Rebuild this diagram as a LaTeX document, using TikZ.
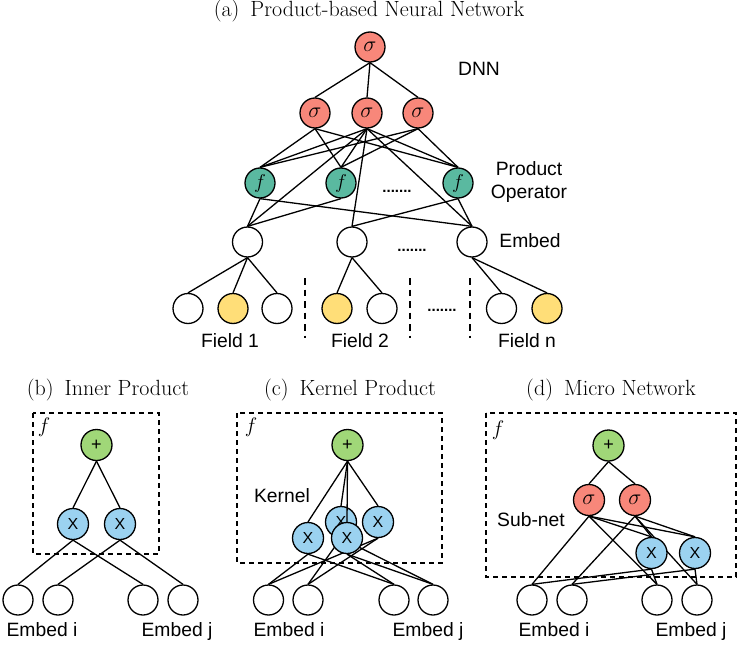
\RequirePackage{fix-cm}
\documentclass[tikz,border=0pt]{standalone}
\usepackage{fontspec}
\setsansfont{Liberation Sans}
\usepackage{xcolor}
\usepackage{tikz}

\definecolor{sigred}{HTML}{F8877A}
\definecolor{opteal}{HTML}{5AB9A0}
\definecolor{hotyellow}{HTML}{FFDE78}
\definecolor{plusgreen}{HTML}{A0D778}
\definecolor{prodblue}{HTML}{9BD2F0}

\begin{document}
\begin{tikzpicture}[x=1pt, y=-1pt, line width=1.3pt,
    unit/.style={circle, draw, fill=white, minimum size=30pt, inner sep=0pt},
    sigunit/.style={unit, fill=sigred, font=\fontsize{22}{26}\selectfont},
    opunit/.style={unit, fill=opteal, font=\fontsize{20}{24}\selectfont},
    hotunit/.style={unit, fill=hotyellow},
    plusunit/.style={unit, fill=plusgreen, minimum size=31pt, font=\sffamily\fontsize{18}{20}\selectfont},
    produnit/.style={unit, fill=prodblue, minimum size=31pt, font=\sffamily\fontsize{16}{18}\selectfont},
    lbltext/.style={font=\sffamily\fontsize{19.3}{23}\selectfont, anchor=base, inner sep=0pt},
    ttltext/.style={font=\fontsize{22}{26}\selectfont, anchor=base, inner sep=0pt},
    ftext/.style={font=\fontsize{21}{24}\selectfont, inner sep=0pt},
    dotstext/.style={font=\sffamily\bfseries\fontsize{15}{16}\selectfont, anchor=base, inner sep=0pt},
    dashbox/.style={dash pattern=on 5pt off 4pt, line width=1.2pt}]
\useasboundingbox (0,0) rectangle (738,650);

% (a) Nodes
\node[ttltext] (titleA) at (369,17) {(a)\enskip Product-based Neural Network};
\node[sigunit] (out) at (370,47) {$\sigma$};
\node[sigunit] (hid1) at (315,113) {$\sigma$};
\node[sigunit] (hid2) at (367,113) {$\sigma$};
\node[sigunit] (hid3) at (418,113) {$\sigma$};
\node[opunit] (op1) at (260,183) {$f$};
\node[opunit] (op2) at (341,183) {$f$};
\node[opunit] (op3) at (458,183) {$f$};
\node[unit] (emb1) at (247.5,242) {};
\node[unit] (emb2) at (352,242) {};
\node[unit] (emb3) at (472,242) {};
\node[unit] (field1) at (188,308.5) {};
\node[hotunit] (field2) at (233,308.5) {};
\node[unit] (field3) at (277,308.5) {};
\node[hotunit] (field4) at (337,308.5) {};
\node[unit] (field5) at (382,308.5) {};
\node[unit] (field6) at (501.5,308.5) {};
\node[hotunit] (field7) at (547,308.5) {};

\node[lbltext] (dnn) at (479,76) {DNN};
\node[lbltext, align=center, anchor=center] (prodop) at (529,182) {Product\\Operator};
\node[lbltext] (embedlbl) at (530,247) {Embed};
\node[lbltext] (fieldlbl1) at (230,347) {Field 1};
\node[lbltext] (fieldlbl2) at (360,347) {Field 2};
\node[lbltext] (fieldlbln) at (527,347) {Field n};
\node[dotstext] (opdots) at (397,192) {.......};
\node[dotstext] (embdots) at (412,251) {.......};
\node[dotstext] (fielddots) at (442,311) {.......};

\draw[dash pattern=on 6.5pt off 5pt] (305,278) -- (305,338);
\draw[dash pattern=on 6.5pt off 5pt] (410,278) -- (410,338);
\draw[dash pattern=on 6.5pt off 5pt] (470,278) -- (470,338);

% (a) Edges
\draw (out.south) -- (hid1.north);
\draw (out.south) -- (hid2.north);
\draw (out.south) -- (hid3.north);

\draw (hid1.south) -- (op1.north);
\draw (hid1.south) -- (op2.north);
\draw (hid1.south) -- (op3.north);
\draw (hid2.south) -- (op1.north);
\draw (hid2.south) -- (op2.north);
\draw (hid2.south) -- (op3.north);
\draw (hid3.south) -- (op1.north);
\draw (hid3.south) -- (op2.north);
\draw (hid3.south) -- (op3.north);

\draw (hid2.south) -- (emb1.north);
\draw (hid2.south) -- (emb2.north);
\draw (hid2.south) -- (emb3.north);

\draw (op1.south) -- (emb1.north);
\draw (op1.south) -- (emb3.north);
\draw (op2.south) -- (emb1.north);
\draw (op3.south) -- (emb2.north);
\draw (op3.south) -- (emb3.north);

\draw (emb1.south) -- (field1.north);
\draw (emb1.south) -- (field2.north);
\draw (emb1.south) -- (field3.north);
\draw (emb2.south) -- (field4.north);
\draw (emb2.south) -- (field5.north);
\draw (emb3.south) -- (field6.north);
\draw (emb3.south) -- (field7.north);

% (b) Inner Product
\node[ttltext] (titleB) at (108,395) {(b)\enskip Inner Product};
\draw[dashbox] (33,413) rectangle (159,554);
\node[ftext] (fB) at (44,427) {$f$};
\node[plusunit] (plusB) at (96.5,445) {+};
\node[produnit] (prodB1) at (73,524) {X};
\node[produnit] (prodB2) at (120,524) {X};
\node[unit] (embB1) at (18,600) {};
\node[unit] (embB2) at (58,600) {};
\node[unit] (embB3) at (143,600) {};
\node[unit] (embB4) at (183,600) {};
\node[lbltext] (embilblB) at (42,636) {Embed i};
\node[lbltext] (embjlblB) at (177,636) {Embed j};

\draw (plusB.south) -- (prodB1.north);
\draw (plusB.south) -- (prodB2.north);
\draw (prodB1.south) -- (embB1.north);
\draw (prodB1.south) -- (embB3.north);
\draw (prodB2.south) -- (embB2.north);
\draw (prodB2.south) -- (embB4.north);

% (c) Kernel Product
\node[ttltext] (titleC) at (350,395) {(c)\enskip Kernel Product};
\draw[dashbox] (237,413) rectangle (442,563);
\node[ftext] (fC) at (251,427) {$f$};
\node[lbltext] (kernel) at (282,502) {Kernel};
\node[plusunit] (plusC) at (347.5,445) {+};
\node[unit] (embC1) at (268.5,600) {};
\node[unit] (embC2) at (308,600) {};
\node[unit] (embC3) at (394,600) {};
\node[unit] (embC4) at (433,600) {};
\node[lbltext] (embilblC) at (289,636) {Embed i};
\node[lbltext] (embjlblC) at (428,636) {Embed j};
% back X first, the others lie over it
\node[produnit] (prodC0) at (341,522) {X};
\draw (plusC.south) -- (prodC0.north);
\draw (prodC0.south) -- (embC2.north);
\draw (prodC0.south) -- (embC4.north);
\node[produnit] (prodC3) at (378,522) {X};
\draw (prodC3.south) -- (embC1.north);
\draw (prodC3.south) -- (embC2.north);
\node[produnit] (prodC1) at (308,538) {X};
\node[produnit] (prodC2) at (347,538) {X};
\draw (plusC.south) -- (prodC1.north);
\draw (plusC.south) -- (prodC2.north);
\draw (plusC.south) -- (prodC3.north);
\draw (prodC1.south) -- (embC1.north);
\draw (prodC1.south) -- (embC3.north);
\draw (prodC2.south) -- (embC3.north);
\draw (prodC2.south) -- (embC4.north);

% (d) Micro Network
\node[ttltext] (titleD) at (611,395) {(d)\enskip Micro Network};
\draw[dashbox] (486,413) rectangle (736,577);
\node[ftext] (fD) at (498,430) {$f$};
\node[lbltext] (subnet) at (531,526) {Sub-net};
\node[plusunit] (plusD) at (608.5,445.5) {+};
\node[sigunit, minimum size=31pt] (sigD1) at (589,500) {$\sigma$};
\node[sigunit, minimum size=31pt] (sigD2) at (635,500) {$\sigma$};
\node[unit] (embD1) at (532,600) {};
\node[unit] (embD2) at (572,600) {};
\node[unit] (embD3) at (657,600) {};
\node[unit] (embD4) at (697,600) {};
\node[lbltext] (embilblD) at (554,636) {Embed i};
\node[lbltext] (embjlblD) at (691,636) {Embed j};

\draw (plusD.south) -- (sigD1.north);
\draw (plusD.south) -- (sigD2.north);
\draw (sigD1.south) -- (embD1.north);
\draw (sigD1.south) -- (embD3.north);
\draw (sigD2.south) -- (embD2.north);
\draw (sigD2.south) -- (embD4.north);
\node[produnit] (prodD1) at (651.5,553) {X};
\node[produnit] (prodD2) at (695,553) {X};
\draw (sigD1.south) -- (prodD1.north);
\draw (sigD1.south) -- (prodD2.north);
\draw (sigD2.south) -- (prodD1.north);
\draw (sigD2.south) -- (prodD2.north);
\draw (prodD1.south) -- (embD1.north);
\draw (prodD1.south) -- (embD3.north);
\draw (prodD2.south) -- (embD2.north);
\draw (prodD2.south) -- (embD4.north);
\end{tikzpicture}
\end{document}
